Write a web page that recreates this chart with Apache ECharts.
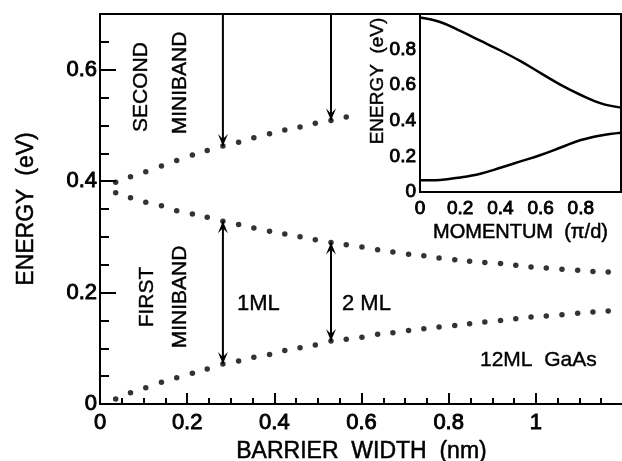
<!DOCTYPE html>
<html>
<head>
<meta charset="utf-8">
<script src="https://cdn.jsdelivr.net/npm/echarts@6.0.0/dist/echarts.min.js"></script>
<style>
  html, body { margin: 0; padding: 0; background: #fff; }
  #chart { width: 622px; height: 461px; }
</style>
</head>
<body>
<div id="chart"></div>
<script>
// Barrier widths (nm) at which the miniband edges were computed
const barrierWidth = [0.036, 0.070, 0.105, 0.141, 0.176, 0.212, 0.246, 0.282, 0.318, 0.353, 0.389,
  0.424, 0.459, 0.494, 0.530, 0.565, 0.601, 0.637, 0.672, 0.708, 0.743, 0.778, 0.814,
  0.848, 0.883, 0.919, 0.954, 0.989, 1.024, 1.060, 1.096, 1.131, 1.166];

// Bottom edge of the second miniband (eV) – computed only for the thinnest barriers
const secondBandBottom = [0.398, 0.408, 0.417, 0.427, 0.437, 0.447, 0.455, 0.463, 0.470, 0.478,
  0.485, 0.492, 0.497, 0.504, 0.509, 0.515];

// Top edge of the first miniband (eV)
const firstBandTop = [0.379, 0.370, 0.362, 0.356, 0.347, 0.341, 0.335, 0.328, 0.322, 0.316, 0.310,
  0.305, 0.300, 0.295, 0.290, 0.286, 0.282, 0.277, 0.273, 0.269, 0.266, 0.262, 0.259,
  0.256, 0.254, 0.252, 0.249, 0.246, 0.244, 0.242, 0.240, 0.238, 0.237];

// Bottom edge of the first miniband (eV)
const firstBandBottom = [0.009, 0.020, 0.029, 0.039, 0.047, 0.055, 0.063, 0.072, 0.077, 0.084, 0.089,
  0.096, 0.101, 0.106, 0.113, 0.116, 0.120, 0.125, 0.128, 0.132, 0.135, 0.138, 0.141,
  0.144, 0.147, 0.150, 0.153, 0.156, 0.158, 0.160, 0.163, 0.165, 0.167];

// Vertical arrows: barrier width, start energy, end energy, double-headed flag
const arrowX     = [0.282, 0.530, 0.282, 0.530];
const arrowStart = [0.700, 0.700, 0.328, 0.290];
const arrowEnd   = [0.463, 0.509, 0.072, 0.113];
const arrowBoth  = [0, 0, 1, 1];

// Inset: dispersion across the Brillouin zone (momentum in units of pi/d)
const momentum   = [0, 0.1, 0.2, 0.3, 0.4, 0.5, 0.6, 0.7, 0.8, 0.9, 1.0];
const upperBand  = [0.980, 0.955, 0.905, 0.850, 0.795, 0.735, 0.668, 0.602, 0.545, 0.498, 0.474];
const lowerBand  = [0.066, 0.068, 0.082, 0.103, 0.136, 0.172, 0.208, 0.250, 0.292, 0.318, 0.333];

// Tick label values
const mainXTicks = [0, 0.2, 0.4, 0.6, 0.8, 1];
const mainYTicks = [0, 0.2, 0.4, 0.6];
const insetXTicks = [0, 0.2, 0.4, 0.6, 0.8];
const insetYTicks = [0, 0.2, 0.4, 0.6, 0.8];

const FONT = "'Liberation Sans', Arial, Helvetica, sans-serif";
const INK = '#000';

function pairs(xs, ys) { return ys.map((y, i) => [xs[i], y]); }
function tickText(list) {
  return v => {
    const r = +(+v).toFixed(2);
    return list.some(t => Math.abs(t - r) < 1e-6) ? String(r) : '';
  };
}

// axis text style (ECharts text options)
const labelStyle = (size, border) => ({
  color: INK, fontFamily: FONT, fontSize: size,
  textBorderColor: INK, textBorderWidth: border
});

// free-standing annotation text (zrender text style)
function note(text, x, y, size, vertical, align) {
  return {
    type: 'text', x: x, y: y, z: 10,
    rotation: vertical ? Math.PI / 2 : 0,
    style: {
      text: text, fill: INK, stroke: INK, lineWidth: 0.4,
      fontFamily: FONT, fontSize: size,
      align: align || 'center', verticalAlign: 'middle'
    }
  };
}

const chart = echarts.init(document.getElementById('chart'), null, { renderer: 'canvas' });

const option = {
  animation: false,
  backgroundColor: '#fff',
  grid: [
    { left: 100, top: 14, width: 523, height: 390, outerBoundsMode: 'none', containLabel: false,
      show: true, borderColor: INK, borderWidth: 2, backgroundColor: 'transparent', z: 0 },
    { left: 420, top: 14, width: 201, height: 178, outerBoundsMode: 'none', containLabel: false,
      show: true, borderColor: INK, borderWidth: 2, backgroundColor: '#fff', z: 5 }
  ],
  xAxis: [
    {
      gridIndex: 0, type: 'value', min: 0, max: 1.2, interval: 0.2,
      name: 'BARRIER  WIDTH  (nm)', nameLocation: 'middle', nameGap: 36,
      nameTextStyle: labelStyle(23, 0.5),
      axisLine: { lineStyle: { color: INK, width: 2 } },
      axisTick: { inside: true, length: 11, lineStyle: { color: INK, width: 2 } },
      minorTick: { show: true, splitNumber: 4, length: 6, lineStyle: { color: INK, width: 2 } },
      splitLine: { show: false },
      axisLabel: Object.assign(labelStyle(22, 0.9), { margin: 8, showMaxLabel: false, formatter: tickText(mainXTicks) })
    },
    {
      gridIndex: 1, type: 'value', min: 0, max: 1, interval: 0.2,
      name: 'MOMENTUM  (π/d)', nameLocation: 'middle', nameGap: 30,
      nameTextStyle: labelStyle(20, 0.5),
      axisLine: { lineStyle: { color: INK, width: 2 } },
      axisTick: { inside: true, length: 6, lineStyle: { color: INK, width: 1.5 } },
      minorTick: { show: true, splitNumber: 5, length: 3, lineStyle: { color: INK, width: 1.5 } },
      splitLine: { show: false },
      axisLabel: Object.assign(labelStyle(19, 0.9), { margin: 7, showMaxLabel: false, formatter: tickText(insetXTicks) })
    }
  ],
  yAxis: [
    {
      gridIndex: 0, type: 'value', position: 'left', min: 0, max: 0.7, interval: 0.2,
      name: 'ENERGY  (eV)', nameLocation: 'middle', nameGap: 62,
      nameTextStyle: labelStyle(23, 0.5),
      axisLine: { lineStyle: { color: INK, width: 2 } },
      axisTick: { inside: true, length: 16, lineStyle: { color: INK, width: 2 } },
      minorTick: { show: true, splitNumber: 4, length: 9, lineStyle: { color: INK, width: 2 } },
      splitLine: { show: false },
      axisLabel: Object.assign(labelStyle(22, 0.9), { margin: 3, showMaxLabel: false, formatter: tickText(mainYTicks) })
    },
    {
      gridIndex: 1, type: 'value', position: 'left', min: 0, max: 1, interval: 0.2,
      axisLine: { lineStyle: { color: INK, width: 2 } },
      axisTick: { inside: true, length: 6, lineStyle: { color: INK, width: 1.5 } },
      minorTick: { show: true, splitNumber: 5, length: 3, lineStyle: { color: INK, width: 1.5 } },
      splitLine: { show: false },
      axisLabel: Object.assign(labelStyle(19, 0.9), { margin: 4, showMaxLabel: false, formatter: tickText(insetYTicks) })
    }
  ],
  series: [
    {
      type: 'scatter', xAxisIndex: 0, yAxisIndex: 0, symbol: 'circle', symbolSize: 5.5,
      itemStyle: { color: INK }, data: pairs(barrierWidth, secondBandBottom), z: 3
    },
    {
      type: 'scatter', xAxisIndex: 0, yAxisIndex: 0, symbol: 'circle', symbolSize: 5.5,
      itemStyle: { color: INK }, data: pairs(barrierWidth, firstBandTop), z: 3
    },
    {
      type: 'scatter', xAxisIndex: 0, yAxisIndex: 0, symbol: 'circle', symbolSize: 5.5,
      itemStyle: { color: INK }, data: pairs(barrierWidth, firstBandBottom), z: 3
    },
    {
      type: 'custom', xAxisIndex: 0, yAxisIndex: 0, z: 4,
      data: arrowX.map((x, i) => [x, arrowStart[i], arrowEnd[i], arrowBoth[i]]),
      renderItem: function (params, api) {
        const p1 = api.coord([api.value(0), api.value(1)]);
        const p2 = api.coord([api.value(0), api.value(2)]);
        const both = api.value(3) === 1;
        const head = (tip, dir) => ({
          type: 'polygon',
          shape: { points: [
            [tip[0], tip[1]],
            [tip[0] - 5, tip[1] - dir * 12],
            [tip[0], tip[1] - dir * 7],
            [tip[0] + 5, tip[1] - dir * 12]
          ] },
          style: { fill: INK }
        });
        const dirDown = p2[1] > p1[1] ? 1 : -1;
        const children = [
          { type: 'line', shape: { x1: p1[0], y1: p1[1], x2: p2[0], y2: p2[1] }, style: { stroke: INK, lineWidth: 2 } },
          head(p2, dirDown)
        ];
        if (both) children.push(head(p1, -dirDown));
        return { type: 'group', children: children };
      }
    },
    {
      type: 'line', xAxisIndex: 1, yAxisIndex: 1, smooth: 0.4, showSymbol: false, z: 6,
      lineStyle: { color: INK, width: 2.5 }, data: pairs(momentum, upperBand)
    },
    {
      type: 'line', xAxisIndex: 1, yAxisIndex: 1, smooth: 0.4, showSymbol: false, z: 6,
      lineStyle: { color: INK, width: 2.5 }, data: pairs(momentum, lowerBand)
    }
  ],
  graphic: [
    note('SECOND', 141, 87, 21, true),
    note('MINIBAND', 180, 83, 21, true),
    note('FIRST', 147, 297, 21, true),
    note('MINIBAND', 180, 297, 21, true),
    note('1ML', 237, 304, 22, false, 'left'),
    note('2 ML', 342, 304, 22, false, 'left'),
    note('12ML  GaAs', 480, 360, 21, false, 'left'),
    note('ENERGY  (eV)', 378, 81, 19, true)
  ]
};

chart.setOption(option);
</script>
</body>
</html>
